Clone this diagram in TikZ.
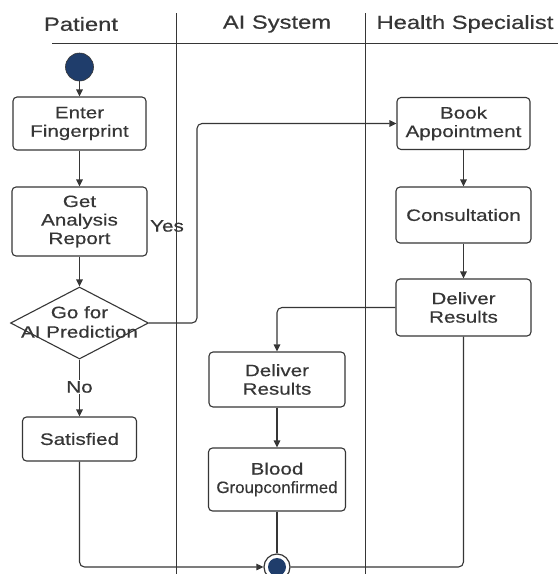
\documentclass[tikz,border=0pt]{standalone}
\usepackage{fontspec}
\setmainfont{Liberation Sans}[FakeStretch=1.25,FakeBold=0.4]
\usetikzlibrary{arrows.meta,shapes.geometric}
\definecolor{ink}{HTML}{363636}
\definecolor{navy}{HTML}{1F3D6B}
\begin{document}
\begin{tikzpicture}[x=1pt,y=-1pt,
  lanehead/.style={text=ink,font=\fontsize{19}{22}\selectfont,inner sep=0pt},
  laneline/.style={draw=ink,line width=1pt},
  act/.style={draw=ink,line width=1.1pt,rounded corners=4pt,fill=white,text=ink,
    align=center,font=\fontsize{16.5}{18.5}\selectfont,inner sep=0pt},
  decision/.style={draw=ink,line width=1.1pt,fill=white,shape=diamond,
    minimum width=138pt,minimum height=72pt,inner sep=0pt},
  dtext/.style={text=ink,align=center,font=\fontsize{16.5}{19.5}\selectfont,inner sep=0pt},
  lbl/.style={text=ink,font=\fontsize{16.5}{18.5}\selectfont,inner sep=1pt},
  startnode/.style={circle,fill=navy,draw=ink,line width=0.6pt,minimum size=28pt,inner sep=0pt},
  endnode/.style={circle,draw=ink,line width=1.2pt,fill=white,minimum size=26pt,inner sep=0pt,
    path picture={\fill[navy] (path picture bounding box.center) circle (9pt);}},
  flow/.style={draw=ink,line width=1.1pt,rounded corners=5pt},
  arr/.style={-{Triangle[length=7pt,width=6.5pt]}}
]
\useasboundingbox (0,0) rectangle (558,574);
\clip (0,0) rectangle (558,574);
\fill[white] (0,0) rectangle (558,574);

% lanes
\node[lanehead] (hp) at (81,24) {Patient};
\node[lanehead] (ha) at (277,24) {AI System};
\node[lanehead] (hh) at (465,24) {Health Specialist};
\draw[laneline] (52,43) -- (558,43);
\draw[laneline] (176,13) -- (176,574);
\draw[laneline] (365,13) -- (365,574);

% nodes
\node[startnode] (start) at (79.5,67) {};
\node[act,minimum width=133pt,minimum height=53pt] (enter) at (79.5,123.5) {Enter\\Fingerprint};
\node[act,minimum width=135pt,minimum height=69pt] (get) at (79.5,221.5) {Get\\Analysis\\Report};
\node[decision] (dec) at (79.5,323) {};
\node[dtext] (dectext) at (79.5,322) {Go for\\AI Prediction};
\node[act,minimum width=114pt,minimum height=44pt] (sat) at (79.5,439) {Satisfied};

\node[act,minimum width=133pt,minimum height=52pt] (book) at (463.5,123.5) {Book\\Appointment};
\node[act,minimum width=135pt,minimum height=56pt] (cons) at (463.5,215) {Consultation};
\node[act,minimum width=135pt,minimum height=57pt] (drhs) at (463.5,307.5) {Deliver\\Results};

\node[act,minimum width=136pt,minimum height=55pt] (drai) at (277,379.5) {Deliver\\Results};
\node[act,minimum width=137pt,minimum height=63pt] (blood) at (277,479.5) {Blood\\\scalebox{0.82}[1]{Groupconfirmed}};
\node[endnode] (end) at (277,567) {};

\coordinate (yesx) at (197,0);

% connectors
\draw[flow,arr] (start) -- (enter);
\draw[flow,arr] (enter) -- (get);
\draw[flow,arr] (get) -- (dec.north);
\draw[flow,arr] (dec.south) -- (sat);
\node[lbl,fill=white] (no) at (79.5,387) {No};
\draw[flow,arr] (dec.east) -| (yesx |- book.west) -- (book.west);
\node[lbl] (yes) at (167,226) {Yes};
\draw[flow,arr] (book) -- (cons);
\draw[flow,arr] (cons) -- (drhs);
\draw[flow,arr] (drhs.west) -| (drai.north);
\draw[flow,arr] (drai) -- (blood);
\draw[flow] (blood.south) -- (end.north);
\draw[flow,arr] (sat.south) |- (end.west);
\draw[flow] (drhs.south) |- (end.east);
\end{tikzpicture}
\end{document}
